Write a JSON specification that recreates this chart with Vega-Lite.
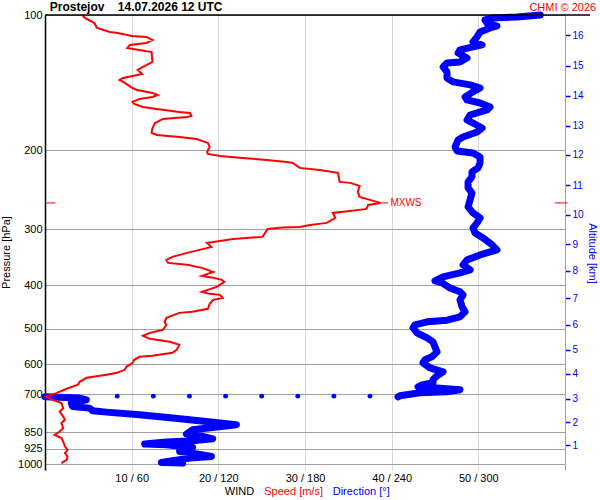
{
  "$schema": "https://vega.github.io/schema/vega-lite/v6.json",
  "width": 520,
  "height": 455,
  "autosize": "none",
  "padding": {"left": 45, "top": 15, "right": 35, "bottom": 30},
  "background": "#ffffff",
  "config": {
    "font": "Liberation Sans",
    "view": {"stroke": null},
    "axis": {"labelFont": "Liberation Sans", "titleFont": "Liberation Sans", "labelFontSize": 11, "titleFontSize": 11, "titleFontWeight": "normal"}
  },
  "datasets": {
    "speed": [
      {"p":100,"s":4.3},{"p":101.5,"s":4.6},{"p":104.2,"s":5.7},{"p":106.9,"s":6.0},{"p":109.1,"s":7.5},{"p":109.7,"s":8.4},{"p":111.4,"s":10.0},{"p":111.9,"s":11.7},{"p":113.7,"s":12.4},{"p":115.4,"s":11.7},{"p":116.6,"s":9.8},{"p":118.4,"s":9.5},{"p":120.9,"s":12.3},{"p":127.2,"s":12.4},{"p":130.5,"s":11.3},{"p":132.6,"s":10.7},{"p":135.3,"s":11.2},{"p":136.7,"s":10.1},{"p":138.1,"s":9.0},{"p":139.5,"s":8.6},{"p":141.7,"s":9.2},{"p":145.4,"s":10.1},{"p":146.9,"s":10.6},{"p":149.1,"s":12.4},{"p":150.7,"s":13.0},{"p":152.2,"s":12.4},{"p":153.8,"s":10.9},{"p":156.2,"s":10.1},{"p":157.8,"s":10.3},{"p":160.3,"s":11.3},{"p":161.9,"s":12.9},{"p":164.4,"s":15.5},{"p":165.2,"s":16.7},{"p":167.8,"s":16.9},{"p":168.7,"s":16.4},{"p":170.4,"s":13.6},{"p":174.0,"s":12.7},{"p":178.5,"s":12.4},{"p":183.1,"s":12.3},{"p":185.0,"s":12.9},{"p":186.9,"s":15.5},{"p":188.8,"s":17.5},{"p":192.7,"s":18.8},{"p":196.7,"s":19.0},{"p":201.8,"s":18.7},{"p":203.9,"s":18.8},{"p":206.0,"s":20.2},{"p":208.1,"s":22.8},{"p":210.3,"s":25.6},{"p":212.4,"s":27.9},{"p":213.5,"s":28.6},{"p":219.0,"s":29.4},{"p":221.3,"s":31.7},{"p":224.7,"s":33.8},{"p":235.3,"s":34.0},{"p":236.5,"s":35.2},{"p":240.2,"s":36.3},{"p":247.7,"s":36.1},{"p":254.1,"s":36.3},{"p":258.1,"s":37.5},{"p":262.1,"s":38.7},{"p":264.8,"s":37.3},{"p":270.3,"s":37.1},{"p":273.1,"s":35.2},{"p":275.9,"s":33.2},{"p":283.0,"s":33.5},{"p":290.4,"s":32.5},{"p":293.4,"s":30.6},{"p":296.4,"s":29.4},{"p":297.5,"s":27.4},{"p":299.5,"s":25.7},{"p":305.7,"s":25.4},{"p":312.0,"s":25.1},{"p":315.2,"s":21.7},{"p":320.1,"s":19.4},{"p":321.7,"s":18.7},{"p":328.4,"s":19.2},{"p":331.8,"s":18.3},{"p":338.6,"s":16.4},{"p":345.6,"s":14.7},{"p":351.0,"s":14.0},{"p":356.5,"s":14.2},{"p":360.1,"s":16.4},{"p":365.7,"s":18.1},{"p":373.3,"s":19.4},{"p":381.0,"s":18.1},{"p":384.9,"s":19.4},{"p":388.9,"s":20.4},{"p":392.9,"s":20.7},{"p":403.1,"s":19.8},{"p":413.5,"s":18.1},{"p":417.8,"s":19.0},{"p":420.0,"s":20.2},{"p":426.5,"s":20.5},{"p":430.9,"s":19.4},{"p":439.8,"s":19.0},{"p":451.2,"s":18.8},{"p":458.2,"s":17.0},{"p":460.6,"s":15.5},{"p":472.5,"s":14.0},{"p":482.3,"s":13.8},{"p":489.8,"s":14.0},{"p":502.5,"s":13.6},{"p":510.3,"s":12.1},{"p":518.2,"s":11.3},{"p":526.2,"s":12.1},{"p":534.4,"s":14.4},{"p":542.7,"s":15.5},{"p":556.8,"s":15.2},{"p":565.4,"s":14.7},{"p":574.1,"s":12.4},{"p":577.1,"s":10.9},{"p":586.0,"s":10.3},{"p":595.1,"s":10.1},{"p":607.4,"s":9.4},{"p":616.8,"s":9.2},{"p":626.4,"s":8.3},{"p":632.8,"s":7.1},{"p":642.6,"s":4.8},{"p":655.9,"s":4.0},{"p":666.0,"s":3.8},{"p":679.8,"s":2.5},{"p":695.0,"s":1.3},{"p":707.2,"s":0.1},{"p":719.3,"s":0.9},{"p":731.6,"s":1.9},{"p":750.7,"s":2.1},{"p":764.0,"s":1.7},{"p":783.9,"s":2.1},{"p":797.0,"s":2.3},{"p":810.7,"s":1.9},{"p":831.8,"s":2.1},{"p":846.3,"s":1.7},{"p":860.7,"s":1.1},{"p":875.4,"s":1.9},{"p":890.9,"s":2.1},{"p":914.0,"s":2.3},{"p":929.5,"s":2.6},{"p":945.3,"s":2.3},{"p":962.1,"s":2.6},{"p":978.2,"s":2.5},{"p":994.9,"s":1.9}
    ],
    "direction": [
      {"seg":"u","p":100,"d":342.8},{"seg":"u","p":101.0,"d":326.8},{"seg":"u","p":101.5,"d":310.2},{"seg":"u","p":102.6,"d":304.6},{"seg":"u","p":104.2,"d":306.0},{"seg":"u","p":105.8,"d":312.9},{"seg":"u","p":106.9,"d":308.1},{"seg":"u","p":109.1,"d":301.2},{"seg":"u","p":111.9,"d":299.1},{"seg":"u","p":114.8,"d":296.3},{"seg":"u","p":116.6,"d":302.6},{"seg":"u","p":117.8,"d":296.3},{"seg":"u","p":119.6,"d":287.3},{"seg":"u","p":121.5,"d":286.0},{"seg":"u","p":124.7,"d":292.2},{"seg":"u","p":127.2,"d":287.3},{"seg":"u","p":127.9,"d":278.3},{"seg":"u","p":130.5,"d":275.6},{"seg":"u","p":133.9,"d":278.3},{"seg":"u","p":138.1,"d":278.3},{"seg":"u","p":140.9,"d":282.5},{"seg":"u","p":143.1,"d":294.3},{"seg":"u","p":145.4,"d":301.2},{"seg":"u","p":148.3,"d":296.3},{"seg":"u","p":152.2,"d":290.8},{"seg":"u","p":154.6,"d":292.2},{"seg":"u","p":157.0,"d":301.2},{"seg":"u","p":160.3,"d":308.1},{"seg":"u","p":162.7,"d":306.0},{"seg":"u","p":167.0,"d":294.3},{"seg":"u","p":171.3,"d":292.2},{"seg":"u","p":174.0,"d":296.3},{"seg":"u","p":178.5,"d":302.6},{"seg":"u","p":182.2,"d":299.1},{"seg":"u","p":186.9,"d":289.4},{"seg":"u","p":189.8,"d":286.0},{"seg":"u","p":196.7,"d":283.9},{"seg":"u","p":200.8,"d":285.3},{"seg":"u","p":202.9,"d":296.3},{"seg":"u","p":207.1,"d":301.2},{"seg":"u","p":213.5,"d":301.2},{"seg":"u","p":219.0,"d":299.8},{"seg":"u","p":223.6,"d":295.6},{"seg":"u","p":229.3,"d":295.6},{"seg":"u","p":235.3,"d":292.9},{"seg":"u","p":242.6,"d":292.9},{"seg":"u","p":249.0,"d":295.6},{"seg":"u","p":258.1,"d":294.3},{"seg":"u","p":267.5,"d":292.9},{"seg":"u","p":275.9,"d":296.3},{"seg":"u","p":283.0,"d":301.2},{"seg":"u","p":290.4,"d":299.1},{"seg":"u","p":298.0,"d":296.3},{"seg":"u","p":305.7,"d":297.7},{"seg":"u","p":313.6,"d":303.3},{"seg":"u","p":325.0,"d":309.5},{"seg":"u","p":333.4,"d":312.9},{"seg":"u","p":342.2,"d":301.2},{"seg":"u","p":351.0,"d":292.2},{"seg":"u","p":360.1,"d":289.4},{"seg":"u","p":369.5,"d":294.3},{"seg":"u","p":375.2,"d":287.3},{"seg":"u","p":382.9,"d":275.6},{"seg":"u","p":390.9,"d":270.0},{"seg":"u","p":395.0,"d":274.9},{"seg":"u","p":405.3,"d":280.4},{"seg":"u","p":413.5,"d":287.3},{"seg":"u","p":420.0,"d":289.4},{"seg":"u","p":430.9,"d":287.3},{"seg":"u","p":446.3,"d":288.7},{"seg":"u","p":458.2,"d":290.8},{"seg":"u","p":470.2,"d":287.3},{"seg":"u","p":478.2,"d":278.3},{"seg":"u","p":482.3,"d":264.5},{"seg":"u","p":489.8,"d":256.1},{"seg":"u","p":497.6,"d":254.8},{"seg":"u","p":510.3,"d":257.5},{"seg":"u","p":523.6,"d":264.5},{"seg":"u","p":534.4,"d":268.6},{"seg":"u","p":548.3,"d":270.0},{"seg":"u","p":562.6,"d":271.4},{"seg":"u","p":577.1,"d":267.9},{"seg":"u","p":586.0,"d":263.1},{"seg":"u","p":595.1,"d":261.7},{"seg":"u","p":610.6,"d":266.5},{"seg":"u","p":623.1,"d":275.6},{"seg":"u","p":635.9,"d":271.4},{"seg":"u","p":649.2,"d":268.6},{"seg":"u","p":659.3,"d":268.6},{"seg":"u","p":666.2,"d":261.0},{"seg":"u","p":672.9,"d":258.2},{"seg":"u","p":676.5,"d":268.6},{"seg":"u","p":683.3,"d":287.3},{"seg":"u","p":690.5,"d":278.3},{"seg":"u","p":693.9,"d":259.6},{"seg":"u","p":704.8,"d":245.7},{"seg":"u","p":708.3,"d":244.4},
      {"seg":"l","p":708,"d":0},{"seg":"l","p":713.0,"d":23.9},{"seg":"l","p":719.3,"d":28.6},{"seg":"l","p":731.6,"d":18.2},{"seg":"l","p":744.5,"d":19.1},{"seg":"l","p":750.7,"d":30.8},{"seg":"l","p":761.2,"d":33.1},{"seg":"l","p":766.3,"d":42.4},{"seg":"l","p":776.9,"d":65.5},{"seg":"l","p":790.1,"d":88.4},{"seg":"l","p":804.0,"d":111.7},{"seg":"l","p":817.7,"d":132.5},{"seg":"l","p":829.1,"d":116.1},{"seg":"l","p":839.1,"d":102.2},{"seg":"l","p":857.6,"d":97.9},{"seg":"l","p":868.3,"d":109.2},{"seg":"l","p":878.6,"d":116.1},{"seg":"l","p":887.5,"d":102.2},{"seg":"l","p":893.5,"d":84.0},{"seg":"l","p":902.7,"d":69.0},{"seg":"l","p":905.9,"d":84.0},{"seg":"l","p":918.5,"d":102.2},{"seg":"l","p":937.5,"d":93.2},{"seg":"l","p":945.3,"d":102.2},{"seg":"l","p":962.1,"d":115.2},{"seg":"l","p":970.0,"d":100.2},{"seg":"l","p":983.3,"d":88.4},{"seg":"l","p":991.8,"d":80.6},{"seg":"l","p":994.9,"d":95.3}
    ],
    "dots": [
      {"p":706,"d":50},{"p":706,"d":75},{"p":706,"d":100},{"p":706,"d":125},{"p":706,"d":150},{"p":706,"d":175},{"p":706,"d":200},{"p":706,"d":225}
    ],
    "mxws": [{"p":262.1,"s":38.7,"label":"MXWS"}],
    "one": [{}]
  },
  "layer": [
    {
      "layer": [
        {
          "data": {"name": "direction"},
          "mark": {"type": "line", "color": "#0000ff", "strokeWidth": 7, "strokeCap": "round", "strokeJoin": "round"},
          "encoding": {
            "x": {"field": "d", "type": "quantitative", "scale": {"domain": [0, 360], "nice": false, "zero": false}, "axis": null},
            "y": {"field": "p", "type": "quantitative", "scale": {"type": "log", "domain": [100, 1031], "reverse": true, "nice": false},
              "axis": {"orient": "right", "values": [110.8,129.7,151.2,176.4,204.9,239.3,278.7,323.9,371.4,427.1,489.8,556.8,629.5,715.7,808.1,909.2],
                "labelExpr": "'' + (16 - indexof([110.8,129.7,151.2,176.4,204.9,239.3,278.7,323.9,371.4,427.1,489.8,556.8,629.5,715.7,808.1,909.2], datum.value))",
                "grid": false, "domainColor": "#a0a0a0", "domainWidth": 1, "tickColor": "#0000ff", "tickSize": 5, "tickWidth": 1.5,
                "labelColor": "#0000ff", "labelFontSize": 10, "labelPadding": 2, "title": "Altitude [km]", "titleColor": "#0000ff", "titlePadding": 3, "titleY": 238}},
            "detail": {"field": "seg"},
            "order": {"value": null}
          }
        },
        {
          "data": {"name": "dots"},
          "mark": {"type": "circle", "color": "#0000ff", "size": 24, "opacity": 1},
          "encoding": {
            "x": {"field": "d", "type": "quantitative", "scale": {"domain": [0, 360], "nice": false, "zero": false}, "axis": null},
            "y": {"field": "p", "type": "quantitative", "scale": {"type": "log", "domain": [100, 1031], "reverse": true, "nice": false}}
          }
        }
      ]
    },
    {
      "layer": [
        {
          "data": {"name": "speed"},
          "mark": {"type": "line", "color": "#ff0000", "strokeWidth": 2, "strokeJoin": "miter"},
          "encoding": {
            "x": {"field": "s", "type": "quantitative", "scale": {"domain": [0, 60], "nice": false, "zero": false},
              "axis": {"orient": "bottom", "values": [10, 20, 30, 40, 50], "grid": true, "gridColor": "#d8d8d8", "gridWidth": 1, "domain": false, "ticks": false, "labelPadding": 2, "labelColor": "#000000", "labelExpr": "datum.value + ' / ' + datum.value * 6", "title": null}},
            "y": {"field": "p", "type": "quantitative", "scale": {"type": "log", "domain": [100, 1031], "reverse": true, "nice": false},
              "axis": {"orient": "left", "values": [100, 200, 300, 400, 500, 600, 700, 850, 925, 1000], "format": "d", "grid": true, "gridColor": "#a0a0a0", "gridWidth": 1, "domainColor": "#000000", "domainWidth": 1.5, "ticks": false, "labelPadding": 3, "labelColor": "#000000", "title": "Pressure [hPa]", "titleColor": "#000000", "titlePadding": 6, "titleY": 237}},
            "order": {"value": null}
          }
        },
        {
          "data": {"name": "one"},
          "mark": {"type": "rule", "color": "#000000", "strokeWidth": 1.5},
          "encoding": {"x": {"datum": 0}, "x2": {"datum": 62.9}, "y": {"datum": 100}}
        },
        {
          "data": {"name": "one"},
          "mark": {"type": "rule", "color": "#ff0000", "strokeWidth": 1},
          "encoding": {"x": {"datum": 0}, "x2": {"datum": 1.2}, "y": {"datum": 262.1}}
        },
        {
          "data": {"name": "one"},
          "mark": {"type": "rule", "color": "#ff0000", "strokeWidth": 1},
          "encoding": {"x": {"datum": 58.8}, "x2": {"datum": 60.3}, "y": {"datum": 262.1}}
        },
        {
          "data": {"name": "mxws"},
          "mark": {"type": "rule", "color": "#ff0000", "strokeWidth": 1},
          "encoding": {"x": {"field": "s", "type": "quantitative"}, "x2": {"datum": 39.6}, "y": {"field": "p", "type": "quantitative"}}
        },
        {
          "data": {"name": "mxws"},
          "mark": {"type": "text", "color": "#ff0000", "fontSize": 10, "align": "left", "baseline": "middle", "dx": 10, "font": "Liberation Sans"},
          "encoding": {"x": {"field": "s", "type": "quantitative"}, "y": {"field": "p", "type": "quantitative"}, "text": {"field": "label"}}
        },
        {
          "data": {"name": "one"},
          "mark": {"type": "text", "text": "Prostejov\u00a0\u00a0\u00a0\u00a014.07.2026 12 UTC", "color": "#000000", "fontSize": 12, "fontWeight": "bold", "align": "left", "baseline": "alphabetic", "font": "Liberation Sans"},
          "encoding": {"x": {"datum": 0.55}, "y": {"datum": 98.2}}
        },
        {
          "data": {"name": "one"},
          "mark": {"type": "text", "text": "CHMI © 2026", "color": "#ff0000", "fontSize": 11, "align": "right", "baseline": "alphabetic", "font": "Liberation Sans"},
          "encoding": {"x": {"datum": 63.6}, "y": {"datum": 98.0}}
        },
        {
          "data": {"name": "one"},
          "mark": {"type": "text", "text": "WIND", "color": "#000000", "fontSize": 11, "align": "left", "baseline": "alphabetic", "font": "Liberation Sans"},
          "encoding": {"x": {"datum": 20.74}, "y": {"datum": 1170}}
        },
        {
          "data": {"name": "one"},
          "mark": {"type": "text", "text": "Speed [m/s]", "color": "#ff0000", "fontSize": 11, "align": "left", "baseline": "alphabetic", "font": "Liberation Sans"},
          "encoding": {"x": {"datum": 25.3}, "y": {"datum": 1170}}
        },
        {
          "data": {"name": "one"},
          "mark": {"type": "text", "text": "Direction [°]", "color": "#0000ff", "fontSize": 11, "align": "left", "baseline": "alphabetic", "font": "Liberation Sans"},
          "encoding": {"x": {"datum": 33.2}, "y": {"datum": 1170}}
        }
      ]
    }
  ],
  "resolve": {"scale": {"x": "independent"}, "axis": {"x": "independent", "y": "independent"}}
}
